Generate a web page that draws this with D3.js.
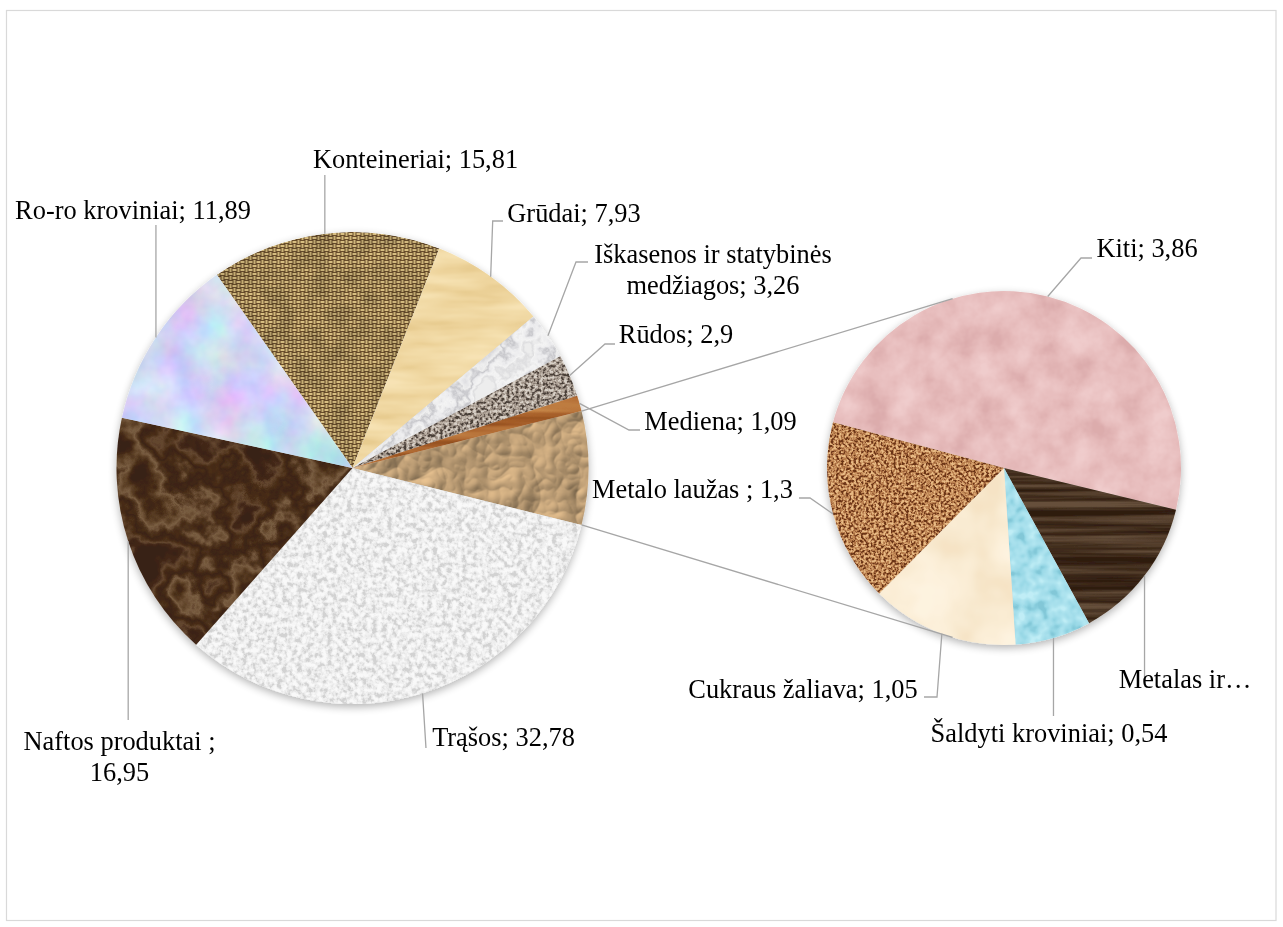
<!DOCTYPE html>
<html>
<head>
<meta charset="utf-8">
<script src="https://cdn.jsdelivr.net/npm/d3@7"></script>
<style>
html,body{margin:0;padding:0;background:#fff;}
svg{display:block;}
</style>
</head>
<body>
<div id="chart"></div>
<script>
// ---------------- DATA ----------------
const mainCategories = ["Trąšos", "Naftos produktai ", "Ro-ro kroviniai", "Konteineriai", "Grūdai",
  "Iškasenos ir statybinės medžiagos", "Rūdos", "Mediena"];
const mainValues = [32.78, 16.95, 11.89, 15.81, 7.93, 3.26, 2.9, 1.09];

const secondaryCategories = ["Kiti", "Metalas ir…", "Šaldyti kroviniai", "Cukraus žaliava", "Metalo laužas "];
const secondaryValues = [3.86, 1.03, 0.54, 1.05, 1.3];

// ---------------- STYLE / LAYOUT ----------------
const W = 1283, H = 927;
const mainTextures = ["fert", "oil", "roro", "burlap", "papyrus", "marble", "granite", "oak"];
const otherTexture = "foil";
const secondaryTextures = ["tissue", "walnut", "droplets", "parchment", "cork"];

const C1 = [352.5, 468], R1 = 236;
const C2 = [1004, 468], R2 = 177;
const secondaryStart = -75 * Math.PI / 180;

const FONT = "'Liberation Serif','Times New Roman',serif";
const FONT_SIZE = 26.4;
const LINE_H = 31;
const GREY = "#a6a6a6";

// label placement (text centre x, first baseline y, leader elbow points; null x = same x as slice point)
const labelLayout = {
  "Trąšos": {x: 503.5, y: 746, pts: [[426, 748]]},
  "Naftos produktai ": {x: 119.5, y: 750, wrap: 3, pts: [[null, 720]]},
  "Ro-ro kroviniai": {x: 133, y: 219, pts: [[null, 225]]},
  "Konteineriai": {x: 415.5, y: 168, pts: [[null, 175]]},
  "Grūdai": {x: 574, y: 222, pts: [[492.7, 221], [503, 221]]},
  "Iškasenos ir statybinės medžiagos": {x: 713, y: 263, wrap: 3, pts: [[576, 262], [588, 262]]},
  "Rūdos": {x: 676, y: 343, pts: [[605, 344], [615, 344]]},
  "Mediena": {x: 720.5, y: 430, pts: [[629, 430], [640, 430]]},
  "Kiti": {x: 1147, y: 257, pts: [[1081, 258], [1092, 258]]},
  "Metalas ir…": {x: 1185, y: 688, nameOnly: true, pts: [[null, 683]]},
  "Šaldyti kroviniai": {x: 1049, y: 742, pts: [[null, 716]]},
  "Cukraus žaliava": {x: 803, y: 698, pts: [[937, 697], [924, 697]]},
  "Metalo laužas ": {x: 692.5, y: 498, pts: [[810, 498], [799, 498]]}
};

const fmt = v => String(v).replace(".", ",");

// ---------------- SVG ----------------
const svg = d3.select("#chart").append("svg")
  .attr("width", W).attr("height", H).attr("viewBox", `0 0 ${W} ${H}`);
const defs = svg.append("defs");

svg.append("rect").attr("x", 0).attr("y", 0).attr("width", W).attr("height", H).attr("fill", "#fff");
svg.append("rect").attr("x", 6.5).attr("y", 10.5).attr("width", 1269.5).attr("height", 910)
  .attr("fill", "#fff").attr("stroke", "#d9d9d9").attr("stroke-width", 1.2);

// ---------------- TEXTURES ----------------
function noiseTex(id, o) {
  const f = defs.append("filter").attr("id", id)
    .attr("x", "-5%").attr("y", "-5%").attr("width", "110%").attr("height", "110%")
    .attr("color-interpolation-filters", "sRGB");
  f.append("feTurbulence").attr("type", o.type || "fractalNoise").attr("baseFrequency", o.freq)
    .attr("numOctaves", o.oct || 3).attr("seed", o.seed || 1).attr("result", "n");
  if (o.matrix) {
    f.append("feColorMatrix").attr("type", "matrix").attr("values", o.matrix);
  } else {
    const c = o.c ?? 2.5, off = o.off ?? -0.75;
    f.append("feColorMatrix").attr("type", "matrix")
      .attr("values", `${c} 0 0 0 ${off} ${c} 0 0 0 ${off} ${c} 0 0 0 ${off} 0 0 0 0 1`);
    const cols = o.pal.map(h => d3.rgb(h));
    const ct = f.append("feComponentTransfer");
    ["R", "G", "B"].forEach((ch, k) => ct.append("feFunc" + ch).attr("type", "table")
      .attr("tableValues", cols.map(cc => ([cc.r, cc.g, cc.b][k] / 255).toFixed(3)).join(" ")));
  }
  f.append("feComposite").attr("in2", "SourceAlpha").attr("operator", "in");
}

noiseTex("fert", {freq: 0.2, oct: 3, seed: 3, c: 2.6, off: -0.8,
  pal: ["#d2d2d2", "#e0e0e0", "#eaeaea", "#f1f1f1", "#f6f6f6", "#fafafa"]});
noiseTex("oil", {freq: 0.016, oct: 5, seed: 7, c: 2.2, off: -0.6,
  pal: ["#3a2212", "#452a16", "#5e4228", "#7a5e42", "#4e321c", "#3c2414", "#4a2e18", "#654830", "#44291a", "#3a2212"]});
noiseTex("roro", {freq: 0.02, oct: 4, seed: 4,
  matrix: "0.4 0 0 0 0.61  0 0.35 0 0 0.67  0 0 0.2 0 0.86  0 0 0 0 1"});
noiseTex("papyrus", {freq: "0.012 0.06", oct: 3, seed: 12, c: 2, off: -0.5,
  pal: ["#e8cc90", "#eed49c", "#f1d9a4", "#f4deac", "#f7e3b4"]});
noiseTex("marble", {freq: 0.025, oct: 5, seed: 21,
  pal: ["#d6d6da", "#e6e6e8", "#f0f0f0", "#c8c8cc", "#ececee", "#f4f4f4", "#dedee0", "#eeeeee"]});
noiseTex("granite", {freq: 0.33, oct: 2, seed: 11, c: 2.8, off: -0.9,
  pal: ["#4a403a", "#72665e", "#9c9086", "#b0a498", "#c2b8ae", "#d8d0c8"]});
noiseTex("oak", {freq: "0.004 0.09", oct: 3, seed: 5, c: 2, off: -0.5,
  pal: ["#94501f", "#a45c28", "#b06a32", "#ba763c", "#c48446"]});
noiseTex("tissue", {freq: 0.035, oct: 4, seed: 14, c: 1.6, off: -0.3,
  pal: ["#dcacad", "#e3b6b6", "#e8bebe", "#ecc5c5", "#f0cccc"]});
noiseTex("walnut", {freq: "0.003 0.12", oct: 4, seed: 8,
  pal: ["#2e1c10", "#3a2616", "#463222", "#56402e", "#66503c"]});
noiseTex("droplets", {freq: 0.09, oct: 2, seed: 6, c: 2, off: -0.5,
  pal: ["#82c8d8", "#98d8e6", "#a6dfec", "#b0e5f0", "#c0eef6"]});
noiseTex("parchment", {freq: 0.02, oct: 3, seed: 2, c: 1.8, off: -0.4,
  pal: ["#f6e4c6", "#f9ead0", "#fcefd8", "#fef3e0"]});
noiseTex("cork", {freq: 0.4, oct: 2, seed: 17, c: 3, off: -1.0,
  pal: ["#6a3418", "#8e5430", "#b47848", "#c48c5a", "#d4a06c", "#e8bc86"]});

// burlap weave pattern
const bp = defs.append("pattern").attr("id", "burlapPat").attr("patternUnits", "userSpaceOnUse")
  .attr("width", 8).attr("height", 8);
bp.append("rect").attr("width", 8).attr("height", 8).attr("fill", "#5c4224");
[[0, 0.9, 4, 2.2], [4, 4.9, 4, 2.2]].forEach(r => {
  bp.append("rect").attr("x", r[0]).attr("y", r[1]).attr("width", r[2]).attr("height", r[3]).attr("fill", "#ccae70");
  bp.append("rect").attr("x", r[0]).attr("y", r[1] + 0.7).attr("width", r[2]).attr("height", 0.8).attr("fill", "#eed89c");
});
[[4.9, 0, 2.2, 4], [0.9, 4, 2.2, 4]].forEach(r => {
  bp.append("rect").attr("x", r[0]).attr("y", r[1]).attr("width", r[2]).attr("height", r[3]).attr("fill", "#c2a468");
  bp.append("rect").attr("x", r[0] + 0.7).attr("y", r[1]).attr("width", 0.8).attr("height", r[3]).attr("fill", "#e2cc90");
});
const bf = defs.append("filter").attr("id", "burlap").attr("color-interpolation-filters", "sRGB");
bf.append("feTurbulence").attr("type", "fractalNoise").attr("baseFrequency", 0.05).attr("numOctaves", 2).attr("seed", 3).attr("result", "n");
bf.append("feColorMatrix").attr("in", "n").attr("type", "matrix")
  .attr("values", "0.35 0 0 0 0.78  0.35 0 0 0 0.78  0.35 0 0 0 0.78  0 0 0 0 1").attr("result", "g");
bf.append("feBlend").attr("in", "SourceGraphic").attr("in2", "g").attr("mode", "multiply").attr("result", "b");
bf.append("feComposite").attr("in", "b").attr("in2", "SourceAlpha").attr("operator", "in");

// crumpled foil (lighting)
const ff = defs.append("filter").attr("id", "foil").attr("color-interpolation-filters", "sRGB");
ff.append("feTurbulence").attr("type", "turbulence").attr("baseFrequency", 0.022).attr("numOctaves", 3).attr("seed", 9).attr("result", "n");
const dl = ff.append("feDiffuseLighting").attr("in", "n").attr("surfaceScale", 3).attr("diffuseConstant", 1.2)
  .attr("lighting-color", "#ceac80").attr("result", "l");
dl.append("feDistantLight").attr("azimuth", 235).attr("elevation", 48);
ff.append("feComposite").attr("in", "l").attr("in2", "SourceAlpha").attr("operator", "in");

// soft shadow for pies
const sh = defs.append("filter").attr("id", "shadow").attr("x", "-10%").attr("y", "-10%").attr("width", "120%").attr("height", "125%");
sh.append("feGaussianBlur").attr("in", "SourceAlpha").attr("stdDeviation", 4);
sh.append("feOffset").attr("dx", 0).attr("dy", 3).attr("result", "o");
sh.append("feComponentTransfer").append("feFuncA").attr("type", "linear").attr("slope", 0.3);
const mg = sh.append("feMerge");
mg.append("feMergeNode");
mg.append("feMergeNode").attr("in", "SourceGraphic");

// ---------------- PIES ----------------
const otherValue = d3.sum(secondaryValues);
const mainData = [{name: "__other", value: otherValue, tex: otherTexture, other: true}]
  .concat(mainCategories.map((c, i) => ({name: c, value: mainValues[i], tex: mainTextures[i]})));
const total = d3.sum(mainData, d => d.value);
const otherAng = 2 * Math.PI * otherValue / total;
const s0 = Math.PI / 2 - otherAng / 2;
const mainArcs = d3.pie().sort(null).value(d => d.value).startAngle(s0).endAngle(s0 + 2 * Math.PI)(mainData);

const secData = secondaryCategories.map((c, i) => ({name: c, value: secondaryValues[i], tex: secondaryTextures[i]}));
const secArcs = d3.pie().sort(null).value(d => d.value)
  .startAngle(secondaryStart).endAngle(secondaryStart + 2 * Math.PI)(secData);

const arc1 = d3.arc().innerRadius(0).outerRadius(R1);
const arc2 = d3.arc().innerRadius(0).outerRadius(R2);

function fillFor(d) { return d.data.tex === "burlap" ? "url(#burlapPat)" : "#ccc"; }

const g1 = svg.append("g").attr("filter", "url(#shadow)")
  .append("g").attr("transform", `translate(${C1[0]},${C1[1]})`);
g1.selectAll("path").data(mainArcs).join("path")
  .attr("d", arc1).attr("fill", fillFor).attr("filter", d => `url(#${d.data.tex})`);

const g2 = svg.append("g").attr("filter", "url(#shadow)")
  .append("g").attr("transform", `translate(${C2[0]},${C2[1]})`);
g2.selectAll("path").data(secArcs).join("path")
  .attr("d", arc2).attr("fill", fillFor).attr("filter", d => `url(#${d.data.tex})`);

// ---------------- CONNECTOR LINES (tangents) ----------------
const onCircle = (c, r, a) => [c[0] + r * Math.sin(a), c[1] - r * Math.cos(a)];
function tangent(P, C, r, upper) {
  const dx = P[0] - C[0], dy = P[1] - C[1];
  const d = Math.hypot(dx, dy);
  const al = Math.acos(r / d), ph = Math.atan2(dy, dx);
  const t1 = [C[0] + r * Math.cos(ph + al), C[1] + r * Math.sin(ph + al)];
  const t2 = [C[0] + r * Math.cos(ph - al), C[1] + r * Math.sin(ph - al)];
  return upper ? (t1[1] < t2[1] ? t1 : t2) : (t1[1] > t2[1] ? t1 : t2);
}
const oArc = mainArcs[0];
const pTop = onCircle(C1, R1, oArc.startAngle), pBot = onCircle(C1, R1, oArc.endAngle);
const tTop = tangent(pTop, C2, R2, true), tBot = tangent(pBot, C2, R2, false);
const conn = svg.append("g").attr("stroke", GREY).attr("stroke-width", 1.3).attr("fill", "none");
conn.append("line").attr("x1", pTop[0]).attr("y1", pTop[1]).attr("x2", tTop[0]).attr("y2", tTop[1]);
conn.append("line").attr("x1", pBot[0]).attr("y1", pBot[1]).attr("x2", tBot[0]).attr("y2", tBot[1]);

// ---------------- LABELS ----------------
const labelsG = svg.append("g");
function drawLabel(a, C, R) {
  const L = labelLayout[a.data.name];
  if (!L) return;
  const mid = (a.startAngle + a.endAngle) / 2;
  const p0 = onCircle(C, R, mid);
  const pts = [p0].concat(L.pts.map(p => [p[0] === null ? p0[0] : p[0], p[1]]));
  labelsG.append("path").attr("d", d3.line()(pts))
    .attr("fill", "none").attr("stroke", GREY).attr("stroke-width", 1.3);
  const full = L.nameOnly ? a.data.name : a.data.name + "; " + fmt(a.data.value);
  let lines = [full];
  if (L.wrap) {
    const w = full.split(" ");
    lines = [w.slice(0, L.wrap).join(" "), w.slice(L.wrap).join(" ")];
  }
  const t = labelsG.append("text").attr("text-anchor", "middle")
    .attr("font-family", FONT).attr("font-size", FONT_SIZE).attr("fill", "#000");
  lines.forEach((ln, i) => t.append("tspan").attr("x", L.x).attr("y", L.y + i * LINE_H).text(ln));
}
mainArcs.forEach(a => { if (!a.data.other) drawLabel(a, C1, R1); });
secArcs.forEach(a => drawLabel(a, C2, R2));
</script>
</body>
</html>
